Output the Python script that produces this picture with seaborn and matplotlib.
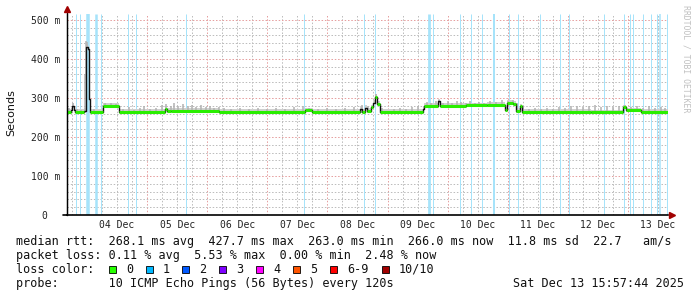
import numpy as np
import pandas as pd
import matplotlib
matplotlib.use("Agg")
import matplotlib.pyplot as plt
import seaborn as sns
from matplotlib.patches import Rectangle
from matplotlib.lines import Line2D

# ---------------- data (x in "day of December", y in milliseconds) ----------------
median_day = [3.667, 3.733, 3.750, 3.775, 3.800, 3.950, 3.975, 3.990, 4.017, 4.033, 4.050,
              4.267, 4.533, 5.300, 5.330, 5.400, 6.200, 7.630, 7.750, 8.550, 8.580, 8.630,
              8.660, 8.720, 8.760, 8.790, 8.830, 8.870, 9.590, 9.615, 9.840, 9.870, 10.300,
              10.650, 10.950, 10.980, 11.080, 11.130, 11.200, 11.230, 12.380, 12.920, 12.970,
              13.220, 13.667]
median_ms = [265, 268, 279, 270, 265, 266, 350, 430, 426, 296, 265,
             280, 265, 271, 266, 267, 265, 268, 265, 272, 265, 275,
             266, 276, 288, 302, 285, 265, 272, 280, 291, 280, 281,
             283, 270, 287, 285, 266, 278, 265, 263, 276, 268,
             265, 266]

smoke_day = [3.70, 3.76, 3.83, 3.90, 3.970, 3.985, 4.005, 4.025, 4.12, 4.30, 4.40, 4.48,
             4.60, 4.70, 4.78, 4.88, 4.95, 5.05, 5.15,
             5.25, 5.32, 5.40, 5.45, 5.52, 5.60, 5.68, 5.75, 5.82, 5.90, 5.98, 6.05, 6.12, 6.20, 6.28,
             6.40, 6.55, 6.70, 6.85, 7.00, 7.15, 7.30, 7.45, 7.60, 7.70, 7.85, 8.00, 8.15, 8.30, 8.45,
             8.58, 8.68, 8.80, 8.90,
             9.10, 9.20, 9.30, 9.40, 9.50,
             9.65, 9.72, 9.80, 9.86, 9.92, 10.00, 10.08, 10.15, 10.22, 10.30, 10.38, 10.45, 10.52, 10.60,
             10.70, 10.80, 10.90, 11.00, 11.08, 11.15,
             11.25, 11.35, 11.45, 11.55, 11.65, 11.75, 11.85, 11.95, 12.05, 12.15, 12.25, 12.35, 12.45,
             12.55, 12.65, 12.75, 12.85,
             12.95, 13.05, 13.15, 13.25, 13.35, 13.45, 13.55, 13.62]
smoke_top = [275, 287, 272, 270, 360, 445, 442, 420, 272, 287, 286, 285,
             272, 276, 270, 273, 278, 272, 275,
             282, 285, 278, 288, 280, 284, 279, 283, 277, 281, 276, 279, 274, 277, 273,
             272, 274, 271, 275, 272, 273, 271, 276, 278, 275, 272, 274, 271, 275, 277,
             282, 278, 310, 275,
             272, 274, 271, 276, 278,
             290, 286, 292, 294, 288, 291, 287, 293, 289, 286, 292, 288, 290, 287,
             293, 290, 295, 292, 294, 288,
             278, 272, 275, 271, 274, 272, 276, 273, 278, 280, 276, 279, 282,
             277, 280, 276, 279,
             283, 276, 279, 275, 278, 274, 277, 273]

loss_start = [3.805, 3.872, 3.995, 4.133, 4.222, 4.678, 4.805, 5.638, 7.605, 8.605, 8.788,
              9.672, 9.755, 10.205, 10.388, 10.567, 10.762, 11.017, 11.155, 11.522, 11.862,
              12.017, 12.588, 12.928, 13.022, 13.078, 13.245, 13.378, 13.478, 13.528, 13.638]
loss_hours = [0.4, 0.4, 1.4, 1.0, 0.4, 0.4, 0.4, 0.4, 0.4, 0.4, 0.4,
              1.1, 0.4, 0.4, 0.4, 0.4, 0.8, 0.4, 0.4, 0.4, 0.4,
              0.4, 0.4, 0.4, 0.4, 0.4, 0.4, 0.4, 0.4, 0.6, 0.4]

day_labels = ["04 Dec", "05 Dec", "06 Dec", "07 Dec", "08 Dec",
              "09 Dec", "10 Dec", "11 Dec", "12 Dec", "13 Dec"]
label_days = [4.5, 5.5, 6.5, 7.5, 8.5, 9.5, 10.5, 11.5, 12.5, 13.5]
ytick_vals = [0, 100, 200, 300, 400, 500]
ytick_labels = ["0  ", "100 m", "200 m", "300 m", "400 m", "500 m"]

stat_lines = [
    "median rtt:  268.1 ms avg  427.7 ms max  263.0 ms min  266.0 ms now  11.8 ms sd  22.7   am/s",
    "packet loss: 0.11 % avg  5.53 % max  0.00 % min  2.48 % now",
    "loss color:",
    "probe:       10 ICMP Echo Pings (56 Bytes) every 120s",
]
timestamp = "Sat Dec 13 15:57:44 2025"
loss_names = ["0", "1", "2", "3", "4", "5", "6-9", "10/10"]
loss_colors = ["#26ff00", "#00b8ff", "#0059ff", "#7e00ff", "#ff00ff", "#ff5500", "#ff0000", "#a10000"]

# ---------------- figure ----------------
sns.set_style("white")
plt.rcParams["font.family"] = ["DejaVu Sans"]
W, H = 697, 297
fig = plt.figure(figsize=(W / 100, H / 100), dpi=100)
fig.patch.set_facecolor("white")


def fx(px):
    return px / W


def fy(py):
    return 1 - py / H


L, R, T, B = 67, 668, 14, 215
ax = fig.add_axes([fx(L), fy(B), fx(R) - fx(L), fy(T) - fy(B)])
x0, x1 = 3.6667, 13.6667
ax.set_xlim(x0, x1)
ax.set_ylim(0, 515)
ax.set_facecolor("white")
px_per_day = (R - L) / (x1 - x0)

# grid (dotted)
minor_col, major_col = "#bdbdbd", "#e6a0a0"
gkw = dict(lw=0.72, dashes=(1.5, 1.8), zorder=0)
for d in np.arange(3.75, 13.67, 0.25):
    if abs(d - round(d)) < 1e-6:
        continue
    ax.axvline(d, color=minor_col, **gkw)
for d in range(4, 14):
    ax.axvline(d, color=major_col, **gkw)
for v in range(20, 515, 20):
    if v % 100 == 0:
        continue
    ax.axhline(v, color=minor_col, **gkw)
for v in range(100, 515, 100):
    ax.axhline(v, color=major_col, **gkw)

# loss bars
for s, h in zip(loss_start, loss_hours):
    w = h / 24.0
    ax.vlines(s + w / 2, 0, 515, color="#a6e3fa", lw=max(w * px_per_day, 1) * 0.72, zorder=1)

# smoke
md = np.array(median_day)
mm = np.array(median_ms, dtype=float)
ax.fill_between(md, mm - 4, mm + 7, step="post", color="#d0d0d0", lw=0, zorder=2)
sd = np.array(smoke_day)
idx = np.clip(np.searchsorted(md, sd, side="right") - 1, 0, len(mm) - 1)
ax.vlines(sd, mm[idx] - 3, smoke_top, color="#b2b2b2", lw=1.1, zorder=2)

# median line (black step) + green loss-0 segments
sns.lineplot(x=median_day, y=median_ms, ax=ax, color="#111111", lw=1.0,
             drawstyle="steps-post", estimator=None, sort=False, zorder=4)
seg_len = md[1:] - md[:-1]
keep = seg_len > 0.03
ax.hlines(mm[:-1][keep], md[:-1][keep], md[1:][keep], color="#2aee00", lw=2.2, zorder=5)

# axes styling
for sp in ["top", "right"]:
    ax.spines[sp].set_visible(False)
ax.spines["left"].set_color("black")
ax.spines["bottom"].set_color("black")
ax.spines["left"].set_linewidth(0.9)
ax.spines["bottom"].set_linewidth(1.2)
ax.set_xticks(label_days, day_labels)
ax.set_yticks(ytick_vals, ytick_labels)
ax.set_xticks(list(np.arange(3.75, 13.67, 0.25)), minor=True)
ax.set_yticks(list(range(20, 515, 20)), minor=True)
ax.tick_params(which="major", length=0)
ax.tick_params(axis="y", which="major", pad=5)
ax.tick_params(axis="x", which="major", pad=3.5)
ax.tick_params(which="minor", length=2, color="#aaaaaa", width=0.7)
for lab in ax.get_xticklabels() + ax.get_yticklabels():
    lab.set_fontfamily("DejaVu Sans Mono")
    lab.set_fontsize(7)
    lab.set_color("#222222")
ax.set_xlabel("")
ax.set_ylabel("")

# axis extensions and arrows
fig.add_artist(Line2D([fx(L), fx(L)], [fy(B), fy(8)], color="black", lw=0.9))
fig.add_artist(Line2D([fx(63), fx(L)], [fy(B), fy(B)], color="black", lw=1.2))
fig.add_artist(Line2D([fx(L)], [fy(9)], marker="^", markersize=4.5, color="#a10000", lw=0))
fig.add_artist(Line2D([fx(672)], [fy(B)], marker=">", markersize=4.5, color="#a10000", lw=0))

# y label and watermark
fig.text(fx(11), fy(113), "Seconds", rotation=90, ha="center", va="center",
         fontsize=8, family="DejaVu Sans", color="#111111")
fig.text(fx(686), fy(59), "RRDTOOL / TOBI OETIKER", rotation=270, ha="center", va="center",
         fontsize=5.9, family="DejaVu Sans Mono", color="#c0c0c0")

# legend / statistics text
mono = dict(family="DejaVu Sans Mono", fontsize=8.5, va="center", ha="left", color="#111111")
rows_y = [241.5, 255.5, 269.5, 283.5]
for line, yy in zip(stat_lines, rows_y):
    fig.text(fx(16), fy(yy), line, **mono)
fig.text(fx(513), fy(rows_y[3]), timestamp, **mono)

sq_left = [108.7, 145.5, 182.3, 219.1, 255.9, 292.7, 329.5, 381.7]
for left, c, name in zip(sq_left, loss_colors, loss_names):
    fig.add_artist(Rectangle((fx(left), fy(rows_y[2] + 3.5)), 7 / W, 7 / H,
                             transform=fig.transFigure, facecolor=c, edgecolor="black", lw=0.6))
    fig.text(fx(left + 17.3), fy(rows_y[2]), name, **mono)

fig.savefig("out.png", dpi=100, facecolor="white")
